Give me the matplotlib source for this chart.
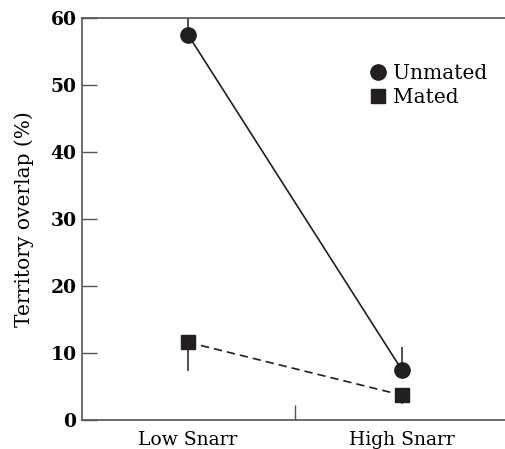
import matplotlib.pyplot as plt

# Territory overlap data
categories = ["Low Snarr", "High Snarr"]
unmated = [57.5, 7.4]
unmated_err = [2.5, 3.5]   # upper bars only
mated = [11.6, 3.7]
mated_err = [4.3, 1.3]     # lower bars only
yticks = [0, 10, 20, 30, 40, 50, 60]

plt.rcParams['font.family'] = ['DejaVu Serif']

fig = plt.figure(figsize=(5.05, 4.49), dpi=100)
ax = fig.add_axes([82 / 505, 29 / 449, 423 / 505, 402 / 449])

x = [1, 2]
ink = '#231f20'

# error bars (one-sided)
ax.errorbar(x, unmated, yerr=[[0, 0], unmated_err], fmt='none', ecolor=ink, elinewidth=1.1, capsize=0)
ax.errorbar(x, mated, yerr=[mated_err, [0, 0]], fmt='none', ecolor=ink, elinewidth=1.1, capsize=0)

ax.plot(x, unmated, '-', color=ink, lw=1.2, marker='o', ms=11, label='Unmated')
ax.plot(x, mated, '--', color=ink, lw=1.2, marker='s', ms=9.5, label='Mated', dashes=(5, 3))

ax.set_xlim(0.505, 2.48)
ax.set_ylim(0, 60)
ax.set_yticks(yticks)
ax.set_yticklabels([str(t) for t in yticks], fontweight='bold', fontsize=13.5)
ax.set_xticks(x)
ax.set_xticklabels(categories, fontsize=13.5)
ax.tick_params(axis='x', length=0, pad=8)
ax.tick_params(axis='y', direction='in', length=11, width=1, color='#555555', pad=4)

# middle tick on x axis
ax.set_xticks([1.5], minor=True)
ax.tick_params(axis='x', which='minor', direction='in', length=11, width=1, color='#555555')

ax.set_ylabel('Territory overlap (%)', fontsize=14.5, labelpad=12)

for s in ['left', 'top', 'bottom']:
    ax.spines[s].set_color('#555555')
    ax.spines[s].set_linewidth(1.2)
ax.spines['right'].set_visible(False)

leg = ax.legend(loc='upper right', bbox_to_anchor=(1.0, 0.93), frameon=False, fontsize=14.5,
                handlelength=0.8, handletextpad=0.35, labelspacing=0.25, markerscale=1.0)
for h in leg.legend_handles:
    h.set_linestyle('none')

fig.savefig('out.png', dpi=100)
